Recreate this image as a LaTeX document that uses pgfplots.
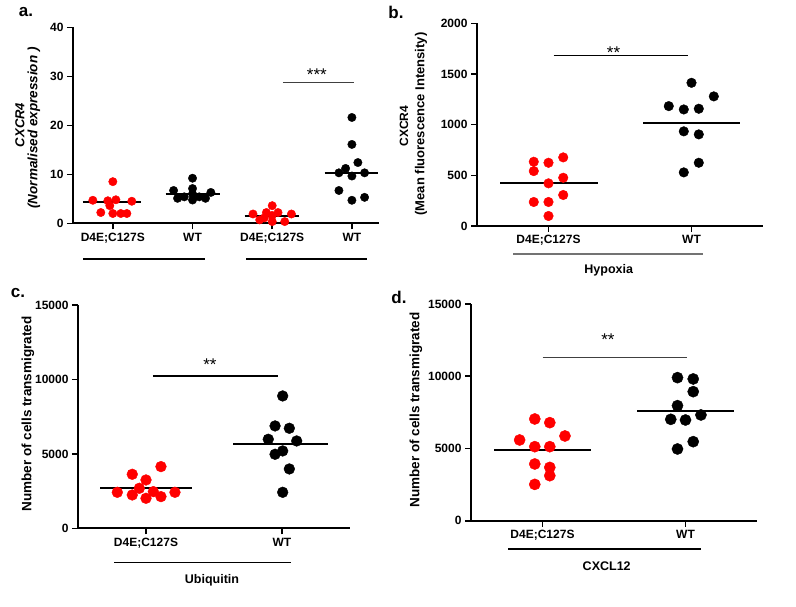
\documentclass[border=0pt]{standalone}
\usepackage{fontspec}
\setmainfont{Liberation Sans}
\usepackage{pgfplots}
\pgfplotsset{compat=1.18}
\definecolor{dotred}{RGB}{255,0,0}
\newcommand{\tlfont}{\fontsize{12}{13}\selectfont\bfseries}
\pgfplotsset{
 panel/.style={
  scale only axis, anchor=south west, clip=false,
  axis lines*=left,
  axis line style={line width=2.2pt, black},
  every tick/.style={line width=1.6pt, black},
  tick align=outside, major tick length=6pt,
  scaled ticks=false,
  /pgf/number format/assume math mode=true,
  /pgf/number format/1000 sep={},
  xticklabel style={font=\tlfont},
  yticklabel style={font=\tlfont},
  xmin=0.5, xmax=2.5, xtick={1,2},
  xticklabels={D4E;C127S,WT},
 },
 red dots/.style={only marks, mark=*, color=dotred, mark options={draw=dotred, fill=dotred}},
 black dots/.style={only marks, mark=*, black, mark options={fill=black}},
 median/.style={no marks, black, line width=2pt},
 sig/.style={no marks, black!75, line width=1.2pt},
}
\begin{document}
\begin{tikzpicture}
\path (0,0) rectangle (796pt,-606pt);
% ---------------- panel a ----------------
\begin{axis}[panel, at={(73pt,-223.3pt)}, width=306pt, height=196pt,
  xmin=0.5, xmax=4.34, ymin=0, ymax=40, ytick={0,10,20,30,40},
  xtick={1,2,3,4}, xticklabels={D4E;C127S,WT,D4E;C127S,WT}]
\addplot[red dots, mark size=4.2pt] coordinates {
 (0.749,4.7)(0.937,4.6)(1.038,4.8)(1.238,4.5)(1.0,8.5)
 (0.849,2.2)(1.0,2.0)(1.100,2.0)(1.176,2.0)(0.962,3.6)};
\addplot[black dots, mark size=4.2pt] coordinates {
 (2.0,9.2)(2.0,7.1)(1.762,6.7)(2.230,6.3)(1.896,5.4)
 (1.812,5.1)(2.0,4.75)(2.084,5.4)(2.163,5.1)(2.0,6.0)};
\addplot[red dots, mark size=4.2pt] coordinates {
 (3.0,3.6)(2.759,1.9)(2.927,2.2)(3.073,2.2)(3.241,1.9)
 (2.843,0.7)(3.0,0.35)(3.157,0.35)(3.0,1.6)(2.9,1.1)};
\addplot[black dots, mark size=4.2pt] coordinates {
 (4.0,21.6)(4.0,16.1)(4.075,12.4)(3.921,11.2)(3.837,10.3)
 (4.159,10.3)(4.0,9.65)(3.837,6.7)(4.159,5.3)(4.0,4.7)};
\addplot[median] coordinates {(0.624,4.3)(1.351,4.3)};
\addplot[median] coordinates {(1.661,6.0)(2.339,6.0)};
\addplot[median] coordinates {(2.655,1.5)(3.333,1.5)};
\addplot[median] coordinates {(3.657,10.3)(4.326,10.3)};
\addplot[sig] coordinates {(3.133,28.8)(4.024,28.8)};
\node[anchor=north, font=\fontsize{17}{17}\selectfont] at (axis cs:3.56,32.2) {***};
\end{axis}
% ---------------- panel b ----------------
\begin{axis}[panel, at={(477pt,-226pt)}, width=286pt, height=202.7pt,
  ymin=0, ymax=2000, ytick={0,500,1000,1500,2000}]
\addplot[red dots, mark size=4.8pt] coordinates {
 (0.897,634)(1.0,624)(1.103,677)(0.897,542)(1.0,421)
 (1.103,476)(0.897,237)(1.0,237)(1.103,306)(1.0,99)};
\addplot[black dots, mark size=4.8pt] coordinates {
 (2.0,1413)(2.156,1279)(1.841,1183)(1.946,1150)(2.051,1157)
 (1.946,934)(2.051,904)(1.946,529)(2.051,624)};
\addplot[median] coordinates {(0.664,427)(1.343,427)};
\addplot[median] coordinates {(1.664,1019)(2.336,1019)};
\addplot[sig, black] coordinates {(1.035,1680)(1.972,1680)};
\node[anchor=north, font=\fontsize{17}{17}\selectfont] at (axis cs:1.455,1800) {**};
\end{axis}
% ---------------- panel c ----------------
\begin{axis}[panel, at={(78pt,-528.3pt)}, width=272pt, height=223.3pt,
  ymin=0, ymax=15000, ytick={0,5000,10000,15000}]
\addplot[red dots, mark size=5.4pt] coordinates {
 (1.110,4144)(0.899,3629)(1.0,3248)(0.951,2688)(0.789,2419)
 (1.054,2464)(1.213,2419)(0.899,2240)(1.0,2016)(1.110,2128)};
\addplot[black dots, mark size=5.4pt] coordinates {
 (2.005,8891)(1.949,6877)(2.054,6720)(1.899,5981)(2.108,5867)
 (1.949,4973)(2.005,5197)(2.054,3987)(2.005,2419)};
\addplot[median] coordinates {(0.662,2733)(1.338,2733)};
\addplot[median] coordinates {(1.640,5645)(2.338,5645)};
\addplot[sig, black] coordinates {(1.051,10235)(1.971,10235)};
\node[anchor=north, font=\fontsize{17}{17}\selectfont] at (axis cs:1.47,11600) {**};
\end{axis}
% ---------------- panel d ----------------
\begin{axis}[panel, at={(471pt,-520.7pt)}, width=286pt, height=216.7pt,
  ymin=0, ymax=15000, ytick={0,5000,10000,15000}]
\addplot[red dots, mark size=5.6pt] coordinates {
 (0.946,7042)(1.051,6787)(0.840,5588)(1.157,5865)(0.946,5125)
 (1.051,5125)(0.946,3926)(1.051,3691)(1.051,3116)(0.946,2515)};
\addplot[black dots, mark size=5.6pt] coordinates {
 (1.944,9903)(2.054,9812)(2.054,8933)(1.944,7964)(1.897,7017)
 (2.0,6971)(2.108,7320)(2.054,5471)(1.944,4965)};
\addplot[median] coordinates {(0.662,4896)(1.338,4896)};
\addplot[median] coordinates {(1.664,7596)(2.338,7596)};
\addplot[sig] coordinates {(1.0,11288)(2.007,11288)};
\node[anchor=north, font=\fontsize{17}{17}\selectfont] at (axis cs:1.458,13150) {**};
\end{axis}
% ---------------- annotations ----------------
\node[font=\fontsize{17}{17}\selectfont\bfseries] at (26pt,-12pt) {a.};
\node[font=\fontsize{17}{17}\selectfont\bfseries] at (396pt,-12pt) {b.};
\node[font=\fontsize{17}{17}\selectfont\bfseries] at (18pt,-293pt) {c.};
\node[font=\fontsize{17}{17}\selectfont\bfseries] at (399pt,-297pt) {d.};
\node[rotate=90, font=\fontsize{13}{13}\selectfont\bfseries\itshape] at (20pt,-125pt) {CXCR4};
\node[rotate=90, font=\fontsize{13.5}{13.5}\selectfont\bfseries\itshape] at (34pt,-128pt) {(Normalised expression )};
\node[rotate=90, font=\fontsize{12}{12}\selectfont\bfseries] at (404pt,-126pt) {CXCR4};
\node[rotate=90, font=\fontsize{13}{13}\selectfont\bfseries] at (421pt,-124pt) {(Mean fluorescence Intensity)};
\node[rotate=90, font=\fontsize{13.5}{13.5}\selectfont\bfseries] at (28pt,-414pt) {Number of cells transmigrated};
\node[rotate=90, font=\fontsize{13.5}{13.5}\selectfont\bfseries] at (416pt,-410pt) {Number of cells transmigrated};
\node[font=\fontsize{12.5}{12.5}\selectfont\bfseries] at (608.7pt,-270pt) {Hypoxia};
\node[font=\fontsize{12.5}{12.5}\selectfont\bfseries] at (212pt,-580pt) {Ubiquitin};
\node[font=\fontsize{12.5}{12.5}\selectfont\bfseries] at (606.7pt,-566pt) {CXCL12};
\draw[black, line width=1.3pt] (83pt,-259pt) -- (205pt,-259pt);
\draw[black, line width=1.3pt] (246pt,-259pt) -- (367pt,-259pt);
\draw[black!55, line width=1.5pt] (513pt,-254pt) -- (703pt,-254pt);
\draw[black, line width=1.3pt] (114pt,-562.7pt) -- (291pt,-562.7pt);
\draw[black, line width=1.3pt] (508pt,-549pt) -- (701pt,-549pt);
\end{tikzpicture}
\end{document}
